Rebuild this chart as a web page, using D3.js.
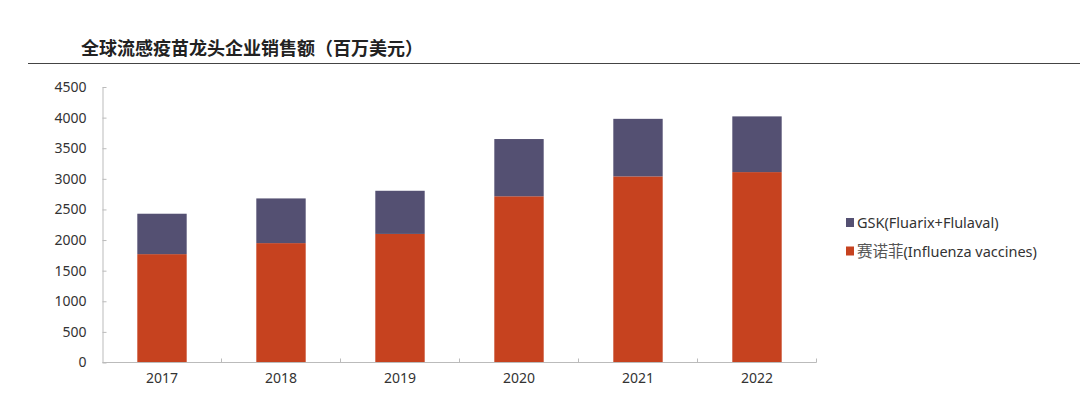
<!DOCTYPE html>
<html><head><meta charset="utf-8">
<script src="https://cdn.jsdelivr.net/npm/d3@7"></script>
<style>body{margin:0;background:#fff;}svg{display:block;font-family:"Noto Sans","Noto Sans CJK SC",sans-serif;}</style>
</head><body>
<svg id="c" width="1080" height="399"></svg>
<script>
const years = ["2017","2018","2019","2020","2021","2022"];
const sanofi = [1770, 1950, 2100, 2715, 3040, 3110];
const gsk = [660, 730, 705, 935, 940, 910];
const yTicks = [0,500,1000,1500,2000,2500,3000,3500,4000,4500];
const seriesNames = [["赛诺菲", "(Influenza vaccines)"], ["", "GSK(Fluarix+Flulaval)"]];
const colors = ["#C6421F", "#545072"];
const title = "全球流感疫苗龙头企业销售额（百万美元）";

const svg = d3.select("#c");
const x = d3.scaleBand().domain(years).range([102.5, 816.5]).paddingInner(0.585).paddingOuter(0.2925);
const y = d3.scaleLinear().domain([0, 4500]).range([362.5, 87]);

// title
svg.append("text").attr("x", 81).attr("y", 54.5).attr("font-size", 18).attr("font-weight", "bold")
  .attr("fill", "#222").attr("font-family", "'Noto Sans CJK SC',sans-serif").text(title);
svg.append("line").attr("x1", 28).attr("x2", 1080).attr("y1", 63.5).attr("y2", 63.5)
  .attr("stroke", "#444").attr("stroke-width", 1.2);

const data = years.map((yr, i) => ({year: yr, s0: sanofi[i], s1: gsk[i]}));
const stack = d3.stack().keys(["s0", "s1"])(data);

svg.append("g").selectAll("g").data(stack).join("g").attr("fill", (d, i) => colors[i])
  .selectAll("rect").data(d => d).join("rect")
  .attr("x", d => x(d.data.year)).attr("width", x.bandwidth())
  .attr("y", d => y(d[1])).attr("height", d => y(d[0]) - y(d[1]));

// y axis
const ya = svg.append("g").attr("transform", "translate(102.5,0)")
  .call(d3.axisLeft(y).tickValues(yTicks).tickFormat(d3.format("d")).tickSizeInner(-4).tickSizeOuter(0).tickPadding(16));
ya.select(".domain").attr("stroke", "#bbb");
ya.selectAll(".tick line").attr("stroke", "#bbb");
ya.selectAll("text").attr("font-size", 14).attr("fill", "#333").attr("font-family", "'Noto Sans',sans-serif");

// x axis
const xa = svg.append("g").attr("transform", "translate(0,362.5)")
  .call(d3.axisBottom(x).tickSize(0).tickPadding(11));
xa.select(".domain").attr("stroke", "#bbb").attr("d", "M102.5,0H816.5");
xa.selectAll("text").attr("font-size", 14).attr("fill", "#333").attr("font-family", "'Noto Sans',sans-serif");
const step = x.step();
xa.selectAll(".bnd").data(d3.range(1, 7)).join("line").attr("class", "bnd")
  .attr("x1", i => 102.5 + i * step).attr("x2", i => 102.5 + i * step)
  .attr("y1", 0).attr("y2", -4).attr("stroke", "#bbb");

// legend
const legItems = [{name: seriesNames[1], c: colors[1]}, {name: seriesNames[0], c: colors[0]}];
const lg = svg.append("g").selectAll("g").data(legItems).join("g")
  .attr("transform", (d, i) => `translate(846,${222.5 + i * 28.5})`);
lg.append("rect").attr("x", 0).attr("y", -4.5).attr("width", 8).attr("height", 9).attr("fill", d => d.c);
const lt = lg.append("text").attr("x", 11).attr("y", 0).attr("dy", "0.35em").attr("fill", "#333");
lt.append("tspan").attr("font-size", 15.5).attr("font-family", "'Noto Sans CJK SC',sans-serif").attr("fill", "#555").text(d => d.name[0]);
lt.append("tspan").attr("font-size", 14.5).text(d => d.name[1]);
</script>
</body></html>
